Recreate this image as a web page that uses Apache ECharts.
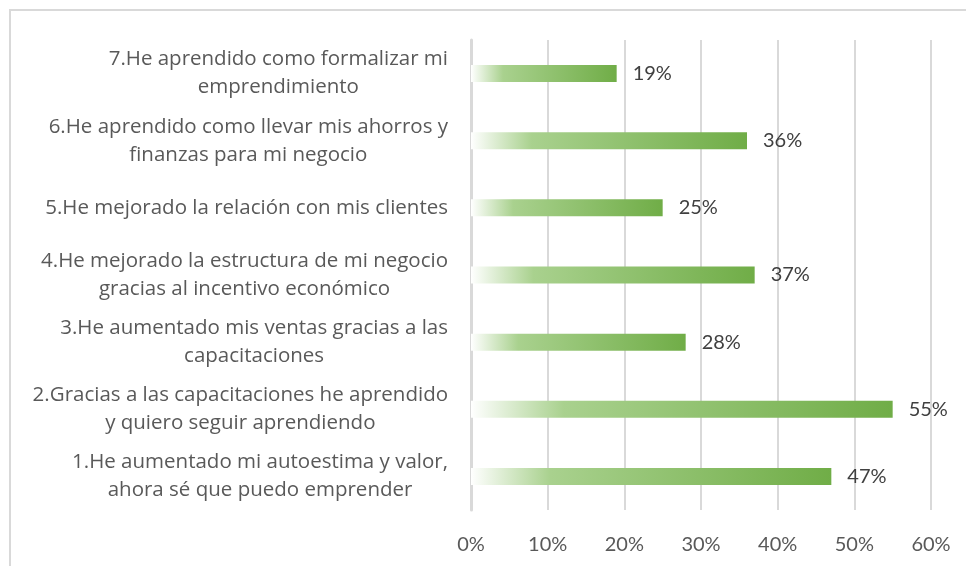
<!DOCTYPE html>
<html>
<head>
<meta charset="utf-8">
<script src="https://cdn.jsdelivr.net/npm/echarts@6/dist/echarts.min.js"></script>
<style>
  html, body { margin: 0; padding: 0; background: #fff; }
  #chart { width: 966px; height: 566px; }
</style>
</head>
<body>
<div id="chart"></div>
<script>
// categories, bottom to top
const categories = [
  '1.He aumentado mi autoestima y valor,\nahora sé que puedo emprender',
  '2.Gracias a las capacitaciones he aprendido\ny quiero seguir aprendiendo',
  '3.He aumentado mis ventas gracias a las\ncapacitaciones',
  '4.He mejorado la estructura de mi negocio\ngracias al incentivo económico',
  '5.He mejorado la relación con mis clientes',
  '6.He aprendido como llevar mis ahorros y\nfinanzas para mi negocio',
  '7.He aprendido como formalizar mi\nemprendimiento'
]
// percentages
const values = [47, 55, 28, 37, 25, 36, 19]
const tickMax = 60
const tickStep = 10

const font = 'Lato, "Open Sans", sans-serif'
const catFont = '"Open Sans", Lato, sans-serif'

let chart = echarts.init(document.getElementById('chart'))

let option = {
  animation: false,
  backgroundColor: '#ffffff',
  graphic: [
    {
      type: 'rect',
      shape: { x: 10, y: 10, width: 1000, height: 1000 },
      style: { fill: 'none', stroke: '#d9d9d9', lineWidth: 2 },
      silent: true
    }
  ],
  grid: {
    left: 471,
    right: 35,
    top: 40,
    bottom: 56
  },
  xAxis: {
    type: 'value',
    min: 0,
    max: tickMax,
    interval: tickStep,
    axisLine: { show: false },
    axisTick: { show: false },
    splitLine: { lineStyle: { color: '#d9d9d9', width: 2 } },
    axisLabel: {
      formatter: '{value}%',
      color: '#595959',
      fontFamily: font,
      fontSize: 20,
      margin: 25
    }
  },
  yAxis: {
    type: 'category',
    data: categories,
    axisLine: { show: true, lineStyle: { color: '#d9d9d9', width: 3 } },
    axisTick: { show: false },
    axisLabel: {
      margin: 23,
      color: '#595959',
      fontFamily: catFont,
      fontSize: 20.5,
      lineHeight: 28,
      align: 'right',
      formatter: function (v) {
        return v.split('\n').map(function (s) { return '{c|' + s + '}' }).join('\n')
      },
      rich: {
        c: {
          align: 'center',
          color: '#595959',
          fontFamily: catFont,
          fontSize: 20.5,
          lineHeight: 28
        }
      }
    }
  },
  series: [
    {
      type: 'bar',
      data: values,
      barWidth: 17,
      itemStyle: {
        color: new echarts.graphic.LinearGradient(0, 0, 1, 0, [
          { offset: 0, color: '#ffffff' },
          { offset: 0.22, color: '#a9d18e' },
          { offset: 1, color: '#70ad47' }
        ])
      },
      label: {
        show: true,
        position: 'right',
        distance: 16,
        formatter: '{c}%',
        color: '#404040',
        fontFamily: font,
        fontSize: 20
      }
    }
  ]
}

chart.setOption(option)
</script>
</body>
</html>
